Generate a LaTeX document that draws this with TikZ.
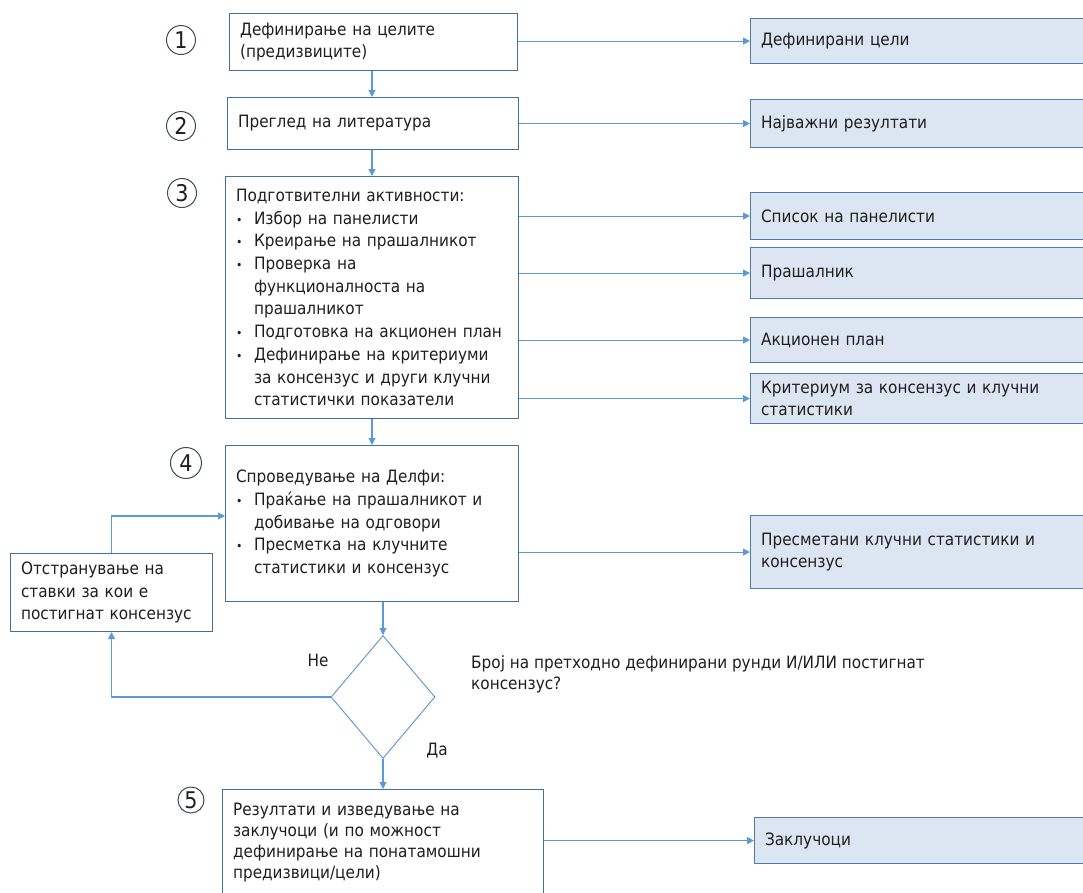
\documentclass[tikz,border=0pt]{standalone}
\usepackage{fontspec}
\usetikzlibrary{arrows.meta,shapes.geometric}
\newfontfamily\mainfamily{DejaVu Sans Condensed}
\newcommand\mainf{\mainfamily\fontsize{17}{22.7}\selectfont}
\newcommand\tightf{\mainfamily\fontsize{17}{21}\selectfont}
\newcommand\numf{\mainfamily\fontsize{23}{23}\selectfont}
\newcommand\blt{\makebox[18pt][l]{\fontsize{12}{12}\selectfont•}}
\newcommand\ind{\hspace*{18pt}}
\definecolor{bordc}{HTML}{41719C}
\definecolor{arrc}{HTML}{5B9BD5}
\definecolor{resfill}{HTML}{DCE6F2}
\definecolor{resdraw}{HTML}{4F7BA8}
\definecolor{circc}{HTML}{3A4A5C}
\definecolor{txt}{HTML}{1F1F1F}
\definecolor{diac}{HTML}{6A9BD0}
\tikzset{
  mainbox/.style={rectangle, draw=bordc, line width=1.1pt, anchor=north west,
    align=left, inner xsep=10.5pt, inner ysep=0pt, text=txt, font=\mainf},
  resbox/.style={mainbox, fill=resfill, draw=resdraw},
  arr/.style={draw=arrc, line width=1.1pt, -{Triangle[length=7pt,width=7pt]}},
  num/.style={circle, draw=circc, line width=1pt, inner sep=0pt, minimum size=29pt,
    text=txt, font=\numf},
  lbl/.style={text=txt, font=\mainf, inner sep=0pt}
}
\begin{document}
\begin{tikzpicture}[x=1pt,y=-1pt]
\useasboundingbox[fill=white] (0,0) rectangle (1083,892);

% main column
\node[mainbox, text width=267pt, minimum width=288pt, minimum height=57pt] (b1) at (229,13)
  {Дефинирање на целите\\(предизвиците)};
\node[mainbox, text width=270pt, minimum width=291pt, minimum height=52pt] (b2) at (227,97)
  {Преглед на литература};
\node[mainbox, text width=272pt, minimum width=293pt, minimum height=242pt] (b3) at (225,176)
  {Подготвителни активности:\\
   \blt Избор на панелисти\\
   \blt Креирање на прашалникот\\
   \blt Проверка на\\
   \ind функционалноста на\\
   \ind прашалникот\\
   \blt Подготовка на акционен план\\
   \blt Дефинирање на критериуми\\
   \ind за консензус и други клучни\\
   \ind статистички показатели};
\node[mainbox, text width=272pt, minimum width=293pt, minimum height=156pt] (b4) at (225,445)
  {Спроведување на Делфи:\\
   \blt Праќање на прашалникот и\\
   \ind добивање на одговори\\
   \blt Пресметка на клучните\\
   \ind статистики и консензус};
\node[mainbox, text width=181pt, minimum width=202pt, minimum height=78pt] (lb) at (10,553)
  {Отстранување на\\ставки за кои е\\постигнат консензус};
\node[diamond, draw=diac, line width=1pt, minimum width=104pt, minimum height=123pt,
  inner sep=0pt, aspect=0.85] (dia) at (383,697) {};
\node[mainbox, font=\tightf, text width=300pt, minimum width=321pt, minimum height=106pt] (b5) at (222,789)
  {Резултати и изведување на\\заклучоци (и по можност\\дефинирање на понатамошни\\предизвици/цели)};

% result boxes
\node[resbox, text width=319pt, minimum width=340pt, minimum height=45pt] (r1) at (750,18) {Дефинирани цели};
\node[resbox, text width=319pt, minimum width=340pt, minimum height=48pt] (r2) at (750,99) {Најважни резултати};
\node[resbox, text width=319pt, minimum width=340pt, minimum height=47pt] (r3) at (750,192) {Список на панелисти};
\node[resbox, text width=319pt, minimum width=340pt, minimum height=51pt] (r4) at (750,247) {Прашалник};
\node[resbox, text width=319pt, minimum width=340pt, minimum height=45pt] (r5) at (750,317) {Акционен план};
\node[resbox, text width=319pt, minimum width=340pt, minimum height=50pt] (r6) at (750,373)
  {Критериум за консензус и клучни\\статистики};
\node[resbox, text width=319pt, minimum width=340pt, minimum height=73pt] (r7) at (750,515)
  {Пресметани клучни статистики и\\консензус};
\node[resbox, text width=315pt, minimum width=336pt, minimum height=46pt] (r8) at (754,817) {Заклучоци};

% numbers
\node[num] (n1) at (181,40) {1};
\node[num] (n2) at (181,126) {2};
\node[num] (n3) at (182,193) {3};
\node[num, minimum size=31pt] (n4) at (186,463) {4};
\node[num, minimum size=26pt] (n5) at (191,800) {5};

% labels
\node[lbl] (ne) at (318,660) {Не};
\node[lbl] (da) at (437,751) {Да};
\node[lbl, anchor=north west, align=left, font=\mainfamily\fontsize{17}{21}\selectfont] (q) at (471,655)
  {Број на претходно дефинирани рунди И/ИЛИ постигнат\\консензус?};

% coordinates
\coordinate (x1) at (372,0);
\coordinate (x2) at (383,0);
\coordinate (loopy) at (0,516);

% vertical flow
\draw[arr] (b1.south -| x1) -- (b2.north -| x1);
\draw[arr] (b2.south -| x1) -- (b3.north -| x1);
\draw[arr] (b3.south -| x1) -- (b4.north -| x1);
\draw[arr] (b4.south -| x2) -- (dia.north);
\draw[arr] (dia.south) -- (b5.north -| x2);
\draw[arr] (dia.west) -| (lb.south);
\draw[arr] (lb.north) |- (b4.west |- loopy);

% to results
\draw[arr] (b1.east |- r1.west) -- (r1.west);
\draw[arr] (b2.east |- r2.west) -- (r2.west);
\draw[arr] (b3.east |- r3.west) -- (r3.west);
\draw[arr] (b3.east |- r4.west) -- (r4.west);
\draw[arr] (b3.east |- r5.west) -- (r5.west);
\draw[arr] (b3.east |- r6.west) -- (r6.west);
\draw[arr] (b4.east |- r7.west) -- (r7.west);
\draw[arr] (b5.east |- r8.west) -- (r8.west);
\end{tikzpicture}
\end{document}
